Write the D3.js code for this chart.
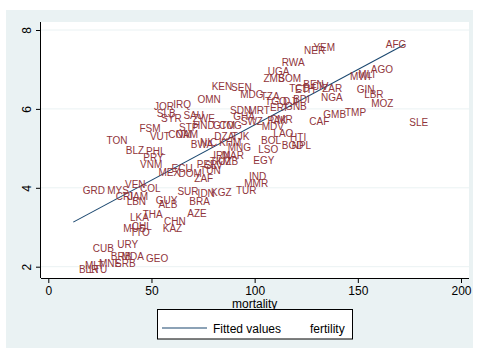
<!DOCTYPE html>
<html>
<head>
<meta charset="utf-8">
<script src="https://cdn.jsdelivr.net/npm/d3@7"></script>
<style>
  body { margin: 0; background: #fff; }
  svg { display: block; font-family: "Liberation Sans", Arial, sans-serif; }
</style>
</head>
<body>
<div id="app"></div>
<script>
// country codes, mortality (x) and fertility (y)
const codes = ["KEN","SEN","JOR","IRQ","OMN","SLB","SYR","SAU","ZWE","FSM","VUT","COM","NAM","STP","HND","GTM","COG",
  "TON","BLZ","PHL","PRY","VNM","BWA","NIC","DZA","KHM","TJK","MNG","IRN","MAR","TKM","UZB","MEX","ECU","DOM","PER",
  "TUN","ZAF","SLV","VEN","COL","MYS","GRD","CRI","JAM","LBN","GUY","ALB","SUR","IDN","KGZ","BRA","TUR","MMR","IND",
  "EGY","LSO","BOL","BGD","NPL","HTI","LAO","MDV","CMR","SWZ","GHA","SDN","MRT","TGO","ERI","GNB","TZA","MDG","DJI",
  "BDI","ZMB","SOM","UGA","RWA","NER","YEM","TCD","ETH","BEN","CIV","ZAR","NGA","GMB","TMP","CAF","MWI","MLI","AGO",
  "GIN","LBR","MOZ","SLE","AFG","LKA","THA","CHN","AZE","KAZ","MUS","CHL","TTO","URY","CUB","BRB","MDA","GEO","MNE",
  "SRB","MLT","BLR","LTU","PAK"];
const mortality = [76.4,85.8,48.5,57.8,69.5,49.8,51.9,62.7,67.2,41.4,46.5,55.4,59.0,60.6,67.4,77.0,80.0,
  25.5,34.8,44.6,43.3,41.7,66.3,70.8,77.7,80.0,86.1,84.2,77.2,81.3,75.6,79.6,50.6,57.0,60.3,69.2,
  70.8,68.0,73.0,34.4,41.7,25.8,13.9,29.9,35.9,35.2,49.3,50.6,59.8,69.6,76.1,65.6,88.2,92.2,94.5,
  96.6,99.0,100.3,110.4,115.2,114.4,106.3,100.7,104.7,90.5,86.9,85.3,94.2,102.3,104.7,112.0,100.2,90.2,111.0,
  115.9,101.5,108.7,103.6,110.4,121.2,125.7,114.0,116.8,120.8,124.9,130.0,129.4,130.5,141.0,123.7,143.5,147.5,153.5,
  146.7,150.3,153.7,172.2,160.8,36.8,43.0,53.3,64.6,52.7,33.6,37.7,36.8,30.7,18.8,27.5,32.8,44.6,21.8,
  29.6,15.0,12.1,17.0,103.5];
const fertility = [6.56,6.54,6.06,6.12,6.23,5.89,5.76,5.83,5.76,5.51,5.31,5.35,5.34,5.53,5.59,5.58,5.58,
  5.19,4.94,4.92,4.77,4.58,5.11,5.15,5.30,5.15,5.30,5.02,4.83,4.83,4.66,4.66,4.38,4.49,4.37,4.58,
  4.45,4.24,4.57,4.09,3.99,3.92,3.92,3.79,3.77,3.65,3.67,3.58,3.90,3.86,3.88,3.65,3.92,4.11,4.28,
  4.70,4.98,5.19,5.08,5.08,5.27,5.38,5.55,5.74,5.69,5.82,5.97,5.97,6.18,6.04,6.06,6.31,6.37,6.18,
  6.23,6.76,6.78,6.95,7.18,7.47,7.56,6.52,6.50,6.61,6.58,6.52,6.28,5.85,5.91,5.68,6.82,6.86,6.99,
  6.48,6.37,6.14,5.66,7.62,3.25,3.33,3.14,3.35,2.96,2.97,3.03,2.86,2.57,2.47,2.25,2.27,2.20,2.09,
  2.09,2.03,1.92,1.92,5.71];

// fitted values line ends (mortality, fitted fertility)
const fitMortality = [12.1, 172.2];
const fitFertility = [3.13, 7.62];

const xTicks = [0, 50, 100, 150, 200];
const yTicks = [2, 4, 6, 8];
const legendLabels = ["Fitted values", "fertility"];

const W = 477, H = 349;
const labelColor = "#90353b";
const lineColor = "#1a476f";
const bg = "#eaf2f3";

const svg = d3.select("#app").append("svg")
  .attr("width", W).attr("height", H);

// graph region
svg.append("rect").attr("x", 6).attr("y", 10).attr("width", 467).attr("height", 338).attr("fill", bg);

const plot = { left: 41, right: 469, top: 22, bottom: 278 };
svg.append("rect")
  .attr("x", plot.left).attr("y", plot.top)
  .attr("width", plot.right - plot.left).attr("height", plot.bottom - plot.top)
  .attr("fill", "#fff");

const x = d3.scaleLinear().domain([0, 200]).range([48.3, 461]);
const y = d3.scaleLinear().domain([2, 8]).range([266.7, 30]);

// gridlines
svg.append("g").selectAll("line").data(yTicks).join("line")
  .attr("x1", plot.left).attr("x2", plot.right)
  .attr("y1", d => y(d)).attr("y2", d => y(d))
  .attr("stroke", bg).attr("stroke-width", 1);

// axes
const xAxis = svg.append("g").attr("transform", `translate(0,${plot.bottom})`)
  .call(d3.axisBottom(x).tickValues(xTicks).tickFormat(d3.format("d")).tickSize(5).tickPadding(3));
xAxis.select(".domain").attr("d", `M${plot.left},0.5H${plot.right}`);
xAxis.selectAll("text").attr("font-size", 12).attr("fill", "#000").attr("font-family", null);

const yAxis = svg.append("g").attr("transform", `translate(${plot.left},0)`)
  .call(d3.axisLeft(y).tickValues(yTicks).tickFormat(d3.format("d")).tickSize(5));
yAxis.select(".domain").attr("d", `M-0.5,${plot.top}V${plot.bottom}`);
yAxis.selectAll("text")
  .attr("font-size", 12).attr("fill", "#000").attr("font-family", null)
  .attr("x", null).attr("dy", null)
  .attr("text-anchor", "middle")
  .attr("transform", "translate(-10,0) rotate(-90)");

svg.selectAll(".tick line").attr("stroke", "#000");
svg.selectAll(".domain").attr("stroke", "#000");

svg.append("text").attr("x", x(100)).attr("y", 307.5)
  .attr("text-anchor", "middle").attr("font-size", 12).text("mortality");

// fitted line
const fit = d3.zip(fitMortality, fitFertility);
svg.append("path").datum(fit)
  .attr("d", d3.line().x(d => x(d[0])).y(d => y(d[1])))
  .attr("fill", "none").attr("stroke", lineColor).attr("stroke-width", 1.1);

// country labels, to the right of each (invisible) marker
const pts = codes.map((c, i) => ({ code: c, m: mortality[i], f: fertility[i] }));
svg.append("g").selectAll("text").data(pts).join("text")
  .attr("x", d => x(d.m) + 5.7)
  .attr("y", d => y(d.f))
  .attr("dy", "0.35em")
  .attr("font-size", 10)
  .attr("fill", labelColor)
  .text(d => d.code);

// legend
const lg = svg.append("g");
lg.append("rect").attr("x", 157.5).attr("y", 309.5).attr("width", 195).attr("height", 29.5)
  .attr("fill", "#fff").attr("stroke", "#000").attr("stroke-width", 1);
lg.append("line").attr("x1", 162).attr("x2", 207).attr("y1", 328).attr("y2", 328)
  .attr("stroke", lineColor).attr("stroke-width", 1.1);
lg.append("text").attr("x", 213).attr("y", 332.5).attr("font-size", 12).text(legendLabels[0]);
lg.append("text").attr("x", 310).attr("y", 332.5).attr("font-size", 12).text(legendLabels[1]);
</script>
</body>
</html>
